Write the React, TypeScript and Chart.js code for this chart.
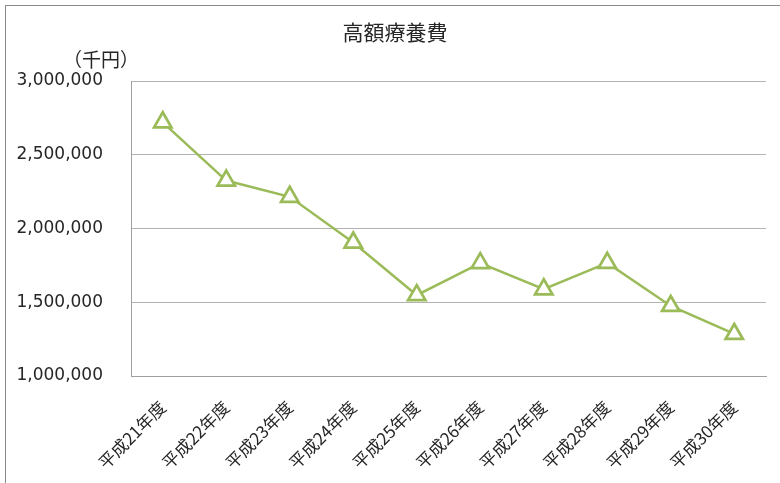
import React, { useEffect, useRef } from "react";
import { Chart, registerables } from "chart.js";

Chart.register(...registerables);

const categories = [
  "平成21年度",
  "平成22年度",
  "平成23年度",
  "平成24年度",
  "平成25年度",
  "平成26年度",
  "平成27年度",
  "平成28年度",
  "平成29年度",
  "平成30年度",
];
const seriesValues = [
  2720000, 2325000, 2215000, 1905000, 1548000, 1765000, 1588000, 1767000, 1475000, 1285000,
];
const yTicks = [1000000, 1500000, 2000000, 2500000, 3000000];
const chartTitle = "高額療養費";
const unitLabel = "（千円）";

const textPlugin = {
  id: "textLabels",
  afterDraw(chart: any) {
    const ctx = chart.ctx;
    ctx.save();
    ctx.fillStyle = "#262626";
    ctx.textBaseline = "middle";
    ctx.font = '21px "Noto Sans CJK JP"';
    ctx.textAlign = "center";
    ctx.fillText(chartTitle, 389, 26);
    ctx.font = '19px "Noto Sans CJK JP"';
    ctx.textAlign = "right";
    ctx.fillText(unitLabel, 133, 54);
    ctx.restore();
  },
};

export default function App() {
  const ref = useRef<HTMLCanvasElement>(null);
  useEffect(() => {
    if (!ref.current) return;
    const chart = new Chart(ref.current, {
      type: "line",
      data: {
        labels: categories,
        datasets: [
          {
            data: seriesValues,
            borderColor: "#9bbb59",
            borderWidth: 2.5,
            pointStyle: "triangle",
            pointRadius: 10,
            pointBorderWidth: 2.75,
            pointBorderColor: "#9bbb59",
            pointBackgroundColor: "#ffffff",
            tension: 0,
          },
        ],
      },
      plugins: [textPlugin],
      options: {
        animation: false,
        responsive: false,
        layout: { padding: { left: 0, right: 20, top: 75, bottom: 0 } },
        plugins: {
          legend: { display: false },
          tooltip: { enabled: false },
          title: { display: false },
        },
        scales: {
          x: {
            offset: true,
            grid: { display: false, drawTicks: false },
            border: { display: true, color: "#a0a0a0", width: 1 },
            ticks: {
              autoSkip: false,
              minRotation: 45,
              maxRotation: 45,
              padding: 21,
              color: "#262626",
              font: { family: '"Noto Sans CJK JP"', size: 17 },
            },
            afterFit(scale: any) {
              scale.height = 108;
            },
          },
          y: {
            min: 1000000,
            max: 3000000,
            afterBuildTicks(scale: any) {
              scale.ticks = yTicks.map((v) => ({ value: v }));
            },
            grid: { color: "#b3b3b3", drawTicks: false, lineWidth: 1 },
            border: { display: true, color: "#a0a0a0", width: 1 },
            ticks: {
              padding: 28,
              labelOffset: 0,
              color: "#262626",
              font: { family: '"DejaVu Sans"', size: 17 },
              callback: (v: any) => Number(v).toLocaleString("en-US"),
            },
            afterFit(scale: any) {
              scale.width = 125;
            },
          },
        },
      },
    });
    return () => chart.destroy();
  }, []);
  return (
    <div style={{ position: "absolute", left: 0, top: 0, width: 780, height: 483, overflow: "hidden", background: "#fff" }}>
      <div
        style={{
          position: "absolute",
          left: 5,
          top: 5,
          width: 780,
          height: 478,
          borderLeft: "1px solid #898989",
          borderTop: "1px solid #898989",
          background: "#fff",
        }}
      >
        <canvas ref={ref} width={780} height={478} style={{ display: "block" }} />
      </div>
    </div>
  );
}
